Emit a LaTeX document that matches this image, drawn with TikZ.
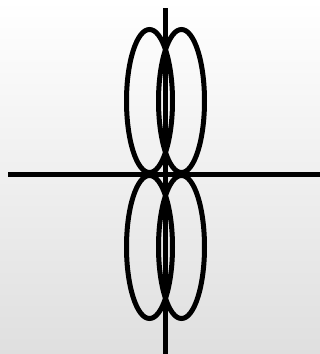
\documentclass[tikz,border=0pt]{standalone}
\usepackage{tikz}
\usetikzlibrary{calc}
\tikzset{
  axisline/.style={line width=5pt, black},
  lobe/.style={line width=5pt, black},
}
\begin{document}
\begin{tikzpicture}[x=1pt, y=-1pt]
  % === Background ===
  \shade[top color=white, bottom color=gray!25] (0,0) rectangle (320,354);
  \useasboundingbox (0,0) rectangle (320,354);

  % === Axes ===
  \coordinate (origin) at (165.5,174);
  \coordinate (xleft) at (8,174);
  \coordinate (xright) at (320,174);
  \coordinate (ytop) at (165.5,8);
  \coordinate (ybottom) at (165.5,354);
  \draw[axisline] (xleft) -- (xright);
  \draw[axisline] (ytop) -- (ybottom);

  % === Lobes ===
  \coordinate (ul) at (149.5,101);
  \coordinate (ur) at (181.5,101);
  \coordinate (ll) at (149.5,247);
  \coordinate (lr) at (181.5,247);
  \foreach \c in {ul,ur,ll,lr}
    \draw[lobe] (\c) ellipse [x radius=23pt, y radius=71.5pt];
\end{tikzpicture}
\end{document}
